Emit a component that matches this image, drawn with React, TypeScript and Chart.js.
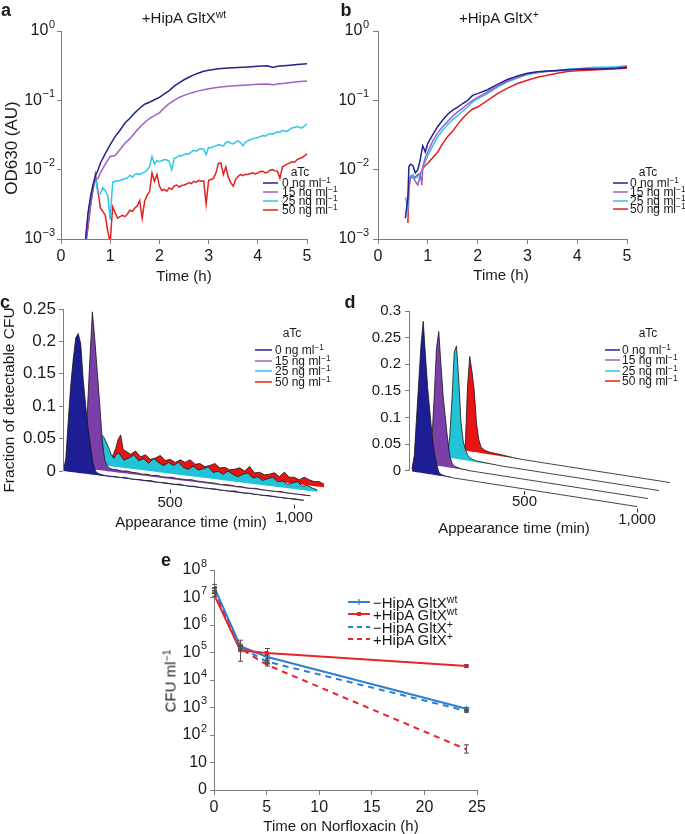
import React, { useEffect, useRef } from 'react';
import { Chart, registerables } from 'chart.js';

Chart.register(...registerables);

const FONT = '"Liberation Sans", Arial, Helvetica, sans-serif';
const AXIS = '#7d7d7d';
const INK = '#1a1a1a';

// ---------- colours ----------
const LINE_COLORS = ['#23238f', '#9d62c4', '#2fc5ea', '#e5201f'];
const FILL_COLORS = ['#1d1d94', '#7a3fa8', '#22c3d6', '#e81414'];
const E_BLUE = '#2d7fd2';
const E_RED = '#e5252b';

// ---------- shared labels ----------
const ATC_DOSES = [0, 15, 25, 50];
const OD_TICKS = [0.001, 0.01, 0.1, 1];
const OD_TICK_BASES = ['10', '10', '10', '10'];
const OD_TICK_EXPS = ['−3', '−2', '−1', '0'];

// ---------- panel a ----------
const A_T_SMOOTH = [0.5, 0.55, 0.6, 0.65, 0.7, 0.75, 0.8, 0.9, 1.0, 1.1, 1.2, 1.3, 1.4, 1.5, 1.6, 1.7, 1.8, 1.9, 2.0, 2.1, 2.2, 2.3, 2.4, 2.5, 2.6, 2.7, 2.8, 2.9, 3.0, 3.2, 3.4, 3.6, 3.8, 4.0, 4.2, 4.3, 4.4, 4.6, 4.8, 5.0];
const A_BLUE = [0.001, 0.0024, 0.004, 0.006, 0.0082, 0.0098, 0.0124, 0.017, 0.023, 0.03, 0.037, 0.047, 0.055, 0.066, 0.077, 0.088, 0.094, 0.102, 0.11, 0.124, 0.138, 0.16, 0.178, 0.198, 0.215, 0.233, 0.248, 0.262, 0.272, 0.285, 0.292, 0.298, 0.303, 0.31, 0.316, 0.298, 0.31, 0.318, 0.328, 0.338];
const A_PURPLE = [0.0009, 0.0016, 0.003, 0.005, 0.0075, 0.0074, 0.009, 0.012, 0.0155, 0.016, 0.0195, 0.024, 0.028, 0.034, 0.041, 0.048, 0.055, 0.06, 0.066, 0.078, 0.09, 0.1, 0.11, 0.118, 0.125, 0.131, 0.137, 0.142, 0.147, 0.154, 0.159, 0.163, 0.167, 0.17, 0.172, 0.168, 0.172, 0.178, 0.185, 0.19];
const A_T_NOISY = [
  0.5, 0.55, 0.6, 0.65, 0.7, 0.75, 0.8, 0.85, 0.9, 0.95,
  1.0, 1.05, 1.1, 1.15, 1.2, 1.25, 1.3, 1.35, 1.4, 1.45,
  1.5, 1.55, 1.6, 1.65, 1.7, 1.75, 1.8, 1.85, 1.9, 1.95,
  2.0, 2.05, 2.1, 2.15, 2.2, 2.25, 2.3, 2.35, 2.4, 2.45,
  2.5, 2.55, 2.6, 2.65, 2.7, 2.75, 2.8, 2.85, 2.9, 2.95,
  3.0, 3.05, 3.1, 3.15, 3.2, 3.25, 3.3, 3.35, 3.4, 3.45,
  3.5, 3.55, 3.6, 3.65, 3.7, 3.75, 3.8, 3.85, 3.9, 3.95,
  4.0, 4.05, 4.1, 4.15, 4.2, 4.25, 4.3, 4.35, 4.4, 4.45,
  4.5, 4.55, 4.6, 4.65, 4.7, 4.75, 4.8, 4.85, 4.9, 4.95,
  5.0,
];
const A_CYAN = [
  0.001, 0.0022, 0.004, 0.006, 0.0078, 0.0045, 0.0045, 0.0055, 0.005, 0.0042,
  0.0019, 0.0066, 0.0068, 0.0069, 0.007, 0.0072, 0.0074, 0.0076, 0.0083, 0.0078,
  0.0085, 0.0087, 0.0085, 0.009, 0.0092, 0.0098, 0.011, 0.0155, 0.012, 0.0135,
  0.013, 0.0135, 0.014, 0.0138, 0.0132, 0.01, 0.0145, 0.015, 0.016, 0.0158,
  0.0165, 0.017, 0.0168, 0.018, 0.019, 0.0185, 0.0195, 0.02, 0.0198, 0.0165,
  0.021, 0.0205, 0.0215, 0.022, 0.023, 0.0225, 0.022, 0.0245, 0.0255, 0.024,
  0.0235, 0.025, 0.026, 0.0245, 0.0222, 0.025, 0.026, 0.027, 0.028, 0.0285,
  0.029, 0.03, 0.031, 0.0305, 0.032, 0.033, 0.0325, 0.034, 0.035, 0.0345,
  0.037, 0.036, 0.0355, 0.038, 0.04, 0.041, 0.042, 0.0405, 0.04, 0.043,
  0.046,
];
const A_RED = [
  0.0008, 0.0015, 0.003, 0.0055, 0.0085, 0.005, 0.0028, 0.0025, 0.0022, 0.0013,
  0.0009, 0.0029, 0.0024, 0.002, 0.0021, 0.0022, 0.0021, 0.0023, 0.0026, 0.0025,
  0.0028, 0.003, 0.0036, 0.002, 0.0035, 0.0043, 0.0048, 0.009, 0.0068, 0.0085,
  0.0058, 0.005, 0.0052, 0.0049, 0.0055, 0.0052, 0.0058, 0.006, 0.0056, 0.0059,
  0.006, 0.0062, 0.0065, 0.0063, 0.0068, 0.0066, 0.007, 0.0068, 0.0069, 0.0032,
  0.007, 0.0072, 0.0075, 0.009, 0.0123, 0.0125, 0.0085, 0.011, 0.0078, 0.0065,
  0.0058, 0.0072, 0.008, 0.0085, 0.0082, 0.0086, 0.0085, 0.0088, 0.009, 0.0087,
  0.009, 0.0094, 0.0095, 0.009, 0.0092, 0.0098, 0.01, 0.0096, 0.0095, 0.0075,
  0.011, 0.0115, 0.012, 0.0125, 0.013, 0.0128, 0.014, 0.0145, 0.015, 0.0158,
  0.017,
];

// ---------- panel b ----------
const B_T = [0.55, 0.6, 0.62, 0.65, 0.7, 0.75, 0.8, 0.85, 0.88, 0.9, 0.95, 1.0, 1.1, 1.2, 1.3, 1.4, 1.5, 1.6, 1.7, 1.8, 1.9, 2.0, 2.2, 2.4, 2.6, 2.8, 3.0, 3.2, 3.4, 3.6, 3.8, 4.0, 4.2, 4.4, 4.6, 4.8, 5.0];
const B_BLUE = [0.002, 0.004, 0.011, 0.012, 0.0115, 0.009, 0.01, 0.014, 0.019, 0.022, 0.018, 0.024, 0.032, 0.042, 0.052, 0.063, 0.072, 0.08, 0.09, 0.1, 0.118, 0.125, 0.142, 0.17, 0.2, 0.225, 0.245, 0.258, 0.265, 0.27, 0.275, 0.28, 0.283, 0.28, 0.285, 0.29, 0.3];
const B_PURPLE = [null, 0.003, 0.0055, 0.0075, 0.0078, 0.0068, 0.006, 0.0085, 0.006, 0.011, 0.015, 0.018, 0.026, 0.034, 0.042, 0.05, 0.059, 0.068, 0.077, 0.088, 0.1, 0.11, 0.132, 0.16, 0.19, 0.215, 0.24, 0.255, 0.262, 0.268, 0.272, 0.278, 0.285, 0.29, 0.29, 0.295, 0.305];
const B_CYAN = [0.004, 0.0028, 0.006, 0.008, 0.0085, 0.0075, 0.008, 0.009, 0.0095, 0.011, 0.013, 0.016, 0.022, 0.03, 0.037, 0.045, 0.053, 0.06, 0.07, 0.08, 0.095, 0.105, 0.125, 0.155, 0.185, 0.21, 0.235, 0.25, 0.26, 0.27, 0.28, 0.285, 0.295, 0.3, 0.3, 0.305, 0.315];
const B_RED = [null, 0.0017, 0.005, 0.008, 0.0082, 0.0078, 0.0085, 0.0088, 0.0095, 0.0105, 0.0115, 0.0124, 0.015, 0.018, 0.024, 0.03, 0.036, 0.045, 0.055, 0.065, 0.075, 0.08, 0.1, 0.125, 0.15, 0.175, 0.195, 0.215, 0.23, 0.245, 0.26, 0.268, 0.272, 0.275, 0.28, 0.285, 0.29];

// ---------- panel c ----------
const C_T = [
  70, 80, 90, 100, 110, 120, 130, 140, 150, 160, 170, 180, 190, 200, 210, 220, 230, 240,
  260, 280, 300, 320, 340, 360, 380, 400, 420, 440, 460, 480, 500, 520, 540, 560, 580, 600, 620, 640, 660, 680,
  700, 720, 740, 760, 780, 800, 820, 840, 860, 880, 900, 920, 940, 960, 980, 1000, 1020, 1040,
];
const C_BLUE = [
  0, 0.02, 0.08, 0.135, 0.175, 0.208, 0.215, 0.2, 0.145, 0.105, 0.07, 0.042, 0.017, 0.006, 0.003, 0.002, 0.0015, 0.001,
  0.001, 0.0015, 0.001, 0.002, 0.001, 0.001, 0.0015, 0.001, 0.002, 0.001, 0.001, 0.0015, 0.001, 0.001, 0.002, 0.001, 0.001, 0.0015, 0.001, 0.001,
  0.001, 0.0015, 0.001, 0.001, 0.001, 0.002, 0.001, 0.001, 0.0015, 0.001, 0.001, 0.001, 0.0015, 0.001, 0.001, 0.001, 0.001, 0.0015, 0.001, 0.001,
];
const C_PURPLE = [
  0, 0, 0, 0, 0, 0.005, 0.03, 0.09, 0.17, 0.243, 0.2, 0.15, 0.1, 0.045, 0.016, 0.008, 0.005, 0.004,
  0.004, 0.003, 0.004, 0.003, 0.003, 0.002, 0.003, 0.002, 0.003, 0.002, 0.002, 0.003, 0.002, 0.002, 0.002, 0.003, 0.002, 0.002, 0.002, 0.002,
  0.002, 0.001, 0.002, 0.002, 0.001, 0.002, 0.001, 0.001, 0.002, 0.001, 0.001, 0.001, 0.001, 0.002, 0.001, 0.001, 0.001, 0.001, 0.001, 0.001,
];
const C_CYAN = [
  0, 0, 0, 0, 0, 0, 0, 0.01, 0.025, 0.04, 0.047, 0.043, 0.035, 0.027, 0.017, 0.013, 0.02, 0.022,
  0.012, 0.016, 0.022, 0.014, 0.018, 0.012, 0.02, 0.015, 0.011, 0.017, 0.013, 0.019, 0.012, 0.01, 0.016, 0.011, 0.014, 0.018, 0.01, 0.013,
  0.009, 0.015, 0.011, 0.008, 0.013, 0.016, 0.009, 0.012, 0.007, 0.011, 0.014, 0.008, 0.01, 0.006, 0.009, 0.012, 0.006, 0.008, 0.005, 0.003,
];
const C_RED = [
  0, 0, 0, 0, 0, 0, 0, 0, 0, 0, 0, 0.005, 0.01, 0.02, 0.035, 0.042, 0.02, 0.018,
  0.014, 0.02, 0.012, 0.016, 0.01, 0.013, 0.018, 0.011, 0.014, 0.01, 0.015, 0.012, 0.017, 0.011, 0.013, 0.009, 0.012, 0.016, 0.01, 0.012,
  0.009, 0.011, 0.014, 0.01, 0.018, 0.009, 0.011, 0.008, 0.01, 0.013, 0.008, 0.016, 0.009, 0.01, 0.007, 0.012, 0.009, 0.007, 0.008, 0.005,
];
const C_YTICKS = [0, 0.05, 0.1, 0.15, 0.2, 0.25];
const C_YTICK_LABELS = ['0', '0.05', '0.1', '0.15', '0.2', '0.25'];

// ---------- panel d ----------
const D_T = [
  0, 10, 20, 30, 40, 50, 60, 70, 80, 90, 100, 110, 120, 130, 140, 150, 160, 170, 180, 190, 200,
  250, 300, 350, 400, 450, 500, 550, 600, 650, 700, 750, 800, 850, 900, 950, 1000,
];
const D_BLUE = [
  0.005, 0.03, 0.1, 0.17, 0.24, 0.285, 0.22, 0.16, 0.115, 0.07, 0.04, 0.02, 0.006, 0.003, 0.002, 0.001, 0.001, 0.001, 0, 0, 0,
  0, 0, 0, 0, 0, 0, 0, 0, 0, 0, 0, 0, 0, 0, 0, 0,
];
const D_PURPLE = [
  0, 0, 0, 0.01, 0.05, 0.13, 0.22, 0.252, 0.19, 0.13, 0.09, 0.05, 0.02, 0.008, 0.004, 0.003, 0.002, 0.001, 0.001, 0.001, 0,
  0, 0, 0, 0, 0, 0, 0, 0, 0, 0, 0, 0, 0, 0, 0, 0,
];
const D_CYAN = [
  0, 0, 0, 0, 0, 0, 0.005, 0.04, 0.11, 0.2, 0.212, 0.15, 0.07, 0.035, 0.02, 0.01, 0.006, 0.004, 0.003, 0.002, 0.002,
  0.001, 0, 0, 0, 0, 0, 0, 0, 0, 0, 0, 0, 0, 0, 0, 0,
];
const D_RED = [
  0, 0, 0, 0, 0, 0, 0, 0, 0, 0.005, 0.12, 0.178, 0.15, 0.115, 0.055, 0.025, 0.012, 0.008, 0.006, 0.005, 0.004,
  0.003, 0.001, 0, 0, 0, 0, 0, 0, 0, 0, 0, 0, 0, 0, 0, 0,
];
const D_YTICKS = [0, 0.05, 0.1, 0.15, 0.2, 0.25, 0.3];
const D_YTICK_LABELS = ['0', '0.05', '0.1', '0.15', '0.2', '0.25', '0.3'];

const CD_XTICKS = [500, 1000];
const CD_XTICK_LABELS = ['500', '1,000'];

// ---------- panel e ----------
const E_T = [0, 2.5, 5, 24];
const E_MINUS_WT = [2.5e7, 1.7e5, 7e4, 900];
const E_PLUS_WT = [1.3e7, 1.2e5, 9.5e4, 3.2e4];
const E_MINUS_GP = [2.0e7, 1.6e5, 4.7e4, 750];
const E_PLUS_GP = [1.6e7, 1.4e5, 3.6e4, 30];
const E_MINUS_WT_LO = [2.1e7, 1.4e5, 6.0e4, 800];
const E_MINUS_WT_HI = [3.0e7, 2.0e5, 8.0e4, 1000];
const E_PLUS_WT_LO = [1.1e7, 4.8e4, 3.8e4, 2.9e4];
const E_PLUS_WT_HI = [1.5e7, 2.8e5, 1.4e5, 3.5e4];
const E_MINUS_GP_LO = [1.7e7, 1.4e5, 4.2e4, 680];
const E_MINUS_GP_HI = [2.3e7, 1.8e5, 5.2e4, 820];
const E_PLUS_GP_LO = [1.4e7, 1.2e5, 3.2e4, 22];
const E_PLUS_GP_HI = [1.8e7, 1.6e5, 4.0e4, 44];
const E_YTICKS = [1, 10, 100, 1e3, 1e4, 1e5, 1e6, 1e7, 1e8];
const E_TICK_BASES = ['0', '10', '10', '10', '10', '10', '10', '10', '10'];
const E_TICK_EXPS = ['', '', '2', '3', '4', '5', '6', '7', '8'];

// ---------- helpers ----------
function axis(o: any) {
  return {
    type: o.type,
    min: o.min,
    max: o.max,
    display: o.display === undefined ? true : o.display,
    grid: { display: true, drawOnChartArea: false, drawTicks: true, tickLength: o.tickLength ?? 5, color: AXIS, tickColor: AXIS, lineWidth: 1 },
    border: { display: o.border ?? true, color: AXIS, width: 1 },
    ticks: {
      font: { family: FONT, size: o.fontSize ?? 15 },
      color: INK,
      padding: o.padding ?? 3,
      stepSize: o.stepSize,
      maxRotation: 0,
      autoSkip: false,
      callback: o.labels ? (_v: any, i: number) => o.labels[i] : o.blank ? () => '' : undefined,
    },
    afterBuildTicks: o.tickValues ? (s: any) => { s.ticks = o.tickValues.map((v: number) => ({ value: v })); } : undefined,
    afterFit: (s: any) => {
      if (o.fitWidth !== undefined) s.width = o.fitWidth;
      if (o.fitHeight !== undefined) s.height = o.fitHeight;
    },
  };
}

// y tick labels of the form base + superscript exponent, placed through the y scale
function powerLabelPlugin(bases: string[], exps: string[], size: number, gap: number) {
  return {
    id: 'powerLabels',
    afterDraw(chart: any) {
      const ys = chart.scales.y;
      const ctx = chart.ctx;
      ctx.save();
      ctx.fillStyle = INK;
      ctx.textBaseline = 'middle';
      ctx.textAlign = 'right';
      const xr = ys.right - gap;
      ys.ticks.forEach((t: any, i: number) => {
        const py = ys.getPixelForValue(t.value);
        const e = exps[i];
        let ew = 0;
        if (e) {
          ctx.font = `${Math.round(size * 0.68)}px ${FONT}`;
          ew = ctx.measureText(e).width + 0.5;
          ctx.fillText(e, xr, py - size * 0.4);
        }
        ctx.font = `${size}px ${FONT}`;
        ctx.fillText(bases[i], xr - ew, py);
      });
      ctx.restore();
    },
  };
}

function lineSeries(ts: number[], vs: (number | null)[], color: string) {
  return {
    data: ts.map((t, i) => ({ x: t, y: vs[i] })),
    borderColor: color,
    borderWidth: 1.5,
    pointRadius: 0,
    tension: 0,
    fill: false,
  };
}

function baseOptions(padding: any, scales: any) {
  return {
    animation: false,
    responsive: false,
    devicePixelRatio: 1,
    layout: { padding },
    plugins: { legend: { display: false }, tooltip: { enabled: false } },
    scales,
  };
}

function makeOD(ts: number[][], series: any[][], pad: any, yWidth: number, tickLen: number, tickPad: number) {
  return {
    type: 'line',
    data: { datasets: series.map((vs, i) => lineSeries(ts[i], vs, LINE_COLORS[i])) },
    options: baseOptions(pad, {
      x: axis({ type: 'linear', min: 0, max: 5, stepSize: 1, fitHeight: 51, tickLength: 5, padding: 3, fontSize: 16 }),
      y: axis({ type: 'logarithmic', min: 0.001, max: 1, tickValues: OD_TICKS, blank: true, fitWidth: yWidth, tickLength: tickLen, padding: tickPad, fontSize: 16 }),
    }),
    plugins: [powerLabelPlugin(OD_TICK_BASES, OD_TICK_EXPS, 16, tickLen + tickPad)],
  };
}

// 3-D waterfall projection: series k is shifted back (right & up), time axis slopes down.
function project(t: number, v: number, k: number, G: any) {
  return {
    x: t + (k * G.kdx) / G.pxPerMin,
    y: v - (G.slope * G.pxPerMin * (t - G.t0)) / G.pxPerVal + (k * G.kdy) / G.pxPerVal,
  };
}

function ribbon(ts: number[], vs: number[], k: number, G: any) {
  return [
    {
      data: ts.map((t, i) => project(t, vs[i], k, G)),
      borderColor: '#151515',
      borderWidth: 0.8,
      backgroundColor: FILL_COLORS[k],
      fill: '+1',
      pointRadius: 0,
      tension: 0,
    },
    {
      data: ts.map((t) => project(t, 0, k, G)),
      borderColor: 'rgba(0,0,0,0)',
      borderWidth: 0,
      pointRadius: 0,
      fill: false,
    },
  ];
}

function skewAxesPlugin(G: any) {
  return {
    id: 'skewAxes',
    afterDraw(chart: any) {
      const { ctx, chartArea, scales } = chart;
      const xs = scales.x;
      const ys = scales.y;
      ctx.save();
      ctx.strokeStyle = AXIS;
      ctx.lineWidth = 1;
      const ax = Math.round(chartArea.left) + 0.5;
      ctx.beginPath();
      ctx.moveTo(ax, ys.getPixelForValue(0));
      ctx.lineTo(ax, ys.getPixelForValue(G.yMax));
      ctx.stroke();
      ctx.fillStyle = INK;
      ctx.strokeStyle = '#333';
      ctx.font = `${G.xFont}px ${FONT}`;
      ctx.textAlign = 'center';
      ctx.textBaseline = 'middle';
      CD_XTICKS.forEach((t, i) => {
        const p = project(t, 0, 0, G);
        const px = xs.getPixelForValue(p.x);
        const py = ys.getPixelForValue(p.y);
        ctx.beginPath();
        ctx.moveTo(Math.round(px) + 0.5, py + G.tick1);
        ctx.lineTo(Math.round(px) + 0.5, py + G.tick2);
        ctx.stroke();
        ctx.fillText(CD_XTICK_LABELS[i], px, py + G.labelDy);
      });
      ctx.restore();
    },
  };
}

function makeWaterfall(G: any, series: number[][], ts: number[], yTicks: number[], yLabels: string[]) {
  const datasets: any[] = [];
  series.forEach((vs, k) => datasets.push(...ribbon(ts, vs, k, G)));
  const chartH = (G.yMax - G.yMin) * G.pxPerVal;
  const chartW = G.right - G.left;
  return {
    type: 'line',
    data: { datasets },
    options: baseOptions(
      { top: G.top, right: G.W - G.right, left: 0, bottom: G.H - G.top - chartH },
      {
        x: { type: 'linear', display: false, min: G.t0, max: G.t0 + chartW / G.pxPerMin },
        y: axis({ type: 'linear', min: G.yMin, max: G.yMax, tickValues: yTicks, labels: yLabels, fitWidth: G.left, tickLength: G.yTickLen, padding: G.yTickPad, fontSize: G.yFont, border: false }),
      }
    ),
    plugins: [skewAxesPlugin(G)],
  };
}

// geometry of the pseudo-3D panels (canvas-relative)
const C_GEOM = { W: 345, H: 250, left: 63, right: 335, top: 19, yMin: -0.07, yMax: 0.25, pxPerVal: 648, pxPerMin: 0.248, t0: 68.55, slope: 0.124, kdx: 6.7, kdy: 4.5, xFont: 15, labelDy: 18.5, tick1: 5, tick2: 9, yTickLen: 4, yTickPad: 3, yFont: 17 };
const D_GEOM = { W: 340, H: 250, left: 64, right: 335, top: 21, yMin: -0.08, yMax: 0.3, pxPerVal: 533.3, pxPerMin: 0.225, t0: -13.33, slope: 0.156, kdx: 11, kdy: 8, xFont: 15, labelDy: 13, tick1: 2, tick2: 6, yTickLen: 4, yTickPad: 4, yFont: 15 };

const E_SERIES = [
  { values: E_PLUS_WT, lo: E_PLUS_WT_LO, hi: E_PLUS_WT_HI, color: E_RED, dash: [], style: 'rect', r: 2 },
  { values: E_MINUS_WT, lo: E_MINUS_WT_LO, hi: E_MINUS_WT_HI, color: E_BLUE, dash: [], style: 'cross', r: 3 },
  { values: E_PLUS_GP, lo: E_PLUS_GP_LO, hi: E_PLUS_GP_HI, color: E_RED, dash: [6, 5], style: 'line', r: 0 },
  { values: E_MINUS_GP, lo: E_MINUS_GP_LO, hi: E_MINUS_GP_HI, color: E_BLUE, dash: [6, 5], style: 'circle', r: 1.8 },
];

const errorBarPlugin = {
  id: 'errorBars',
  afterDatasetsDraw(chart: any) {
    const { ctx, scales } = chart;
    ctx.save();
    ctx.strokeStyle = '#5a4a4a';
    ctx.lineWidth = 1;
    E_SERIES.forEach((s) => {
      E_T.forEach((t, i) => {
        const lo = s.lo[i];
        const hi = s.hi[i];
        if (lo == null || hi == null) return;
        const px = Math.round(scales.x.getPixelForValue(t)) + 0.5;
        const p1 = scales.y.getPixelForValue(lo);
        const p2 = scales.y.getPixelForValue(hi);
        ctx.beginPath();
        ctx.moveTo(px, p1);
        ctx.lineTo(px, p2);
        ctx.moveTo(px - 2.5, p1);
        ctx.lineTo(px + 2.5, p1);
        ctx.moveTo(px - 2.5, p2);
        ctx.lineTo(px + 2.5, p2);
        ctx.stroke();
      });
    });
    ctx.restore();
  },
};

function makeE() {
  return {
    type: 'line',
    data: {
      datasets: E_SERIES.map((s) => ({
        data: E_T.map((t, i) => ({ x: t, y: s.values[i] })),
        borderColor: s.color,
        backgroundColor: s.color,
        borderWidth: 2,
        borderDash: s.dash,
        pointStyle: s.style,
        pointRadius: s.r,
        pointBorderWidth: 1.2,
        tension: 0,
        fill: false,
      })),
    },
    options: baseOptions({ top: 25, right: 23, left: 0, bottom: 0 }, {
      x: axis({ type: 'linear', min: 0, max: 25, stepSize: 5, fitHeight: 44, tickLength: 5, padding: 3, fontSize: 16 }),
      y: axis({ type: 'logarithmic', min: 1, max: 1e8, tickValues: E_YTICKS, blank: true, fitWidth: 54, tickLength: 4, padding: 3, fontSize: 16 }),
    }),
    plugins: [errorBarPlugin, powerLabelPlugin(E_TICK_BASES, E_TICK_EXPS, 16, 7)],
  };
}

// ---------- React pieces ----------
function ChartBox({ left, top, width, height, make }: any) {
  const ref = useRef<HTMLCanvasElement>(null);
  useEffect(() => {
    const chart = new Chart(ref.current as HTMLCanvasElement, make());
    return () => chart.destroy();
  }, []);
  return <canvas ref={ref} width={width} height={height} style={{ position: 'absolute', left, top, width, height }} />;
}

function Sup({ children }: any) {
  return <span style={{ fontSize: '0.7em', position: 'relative', top: '-0.45em' }}>{children}</span>;
}

function Txt({ x, y, size, children, bold = false, anchor = 'middle', rotate = 0 }: any) {
  const tx = anchor === 'middle' ? '-50%' : anchor === 'end' ? '-100%' : '0%';
  return (
    <div
      style={{
        position: 'absolute',
        left: x,
        top: y,
        transform: `translate(${tx},-50%)${rotate ? ` rotate(${rotate}deg)` : ''}`,
        fontSize: size,
        fontWeight: bold ? 700 : 400,
        lineHeight: 1,
        whiteSpace: 'nowrap',
        fontFamily: FONT,
        color: INK,
      }}
    >
      {children}
    </div>
  );
}

function LegendRows({ rows, x1, x2, tx, size }: any) {
  return (
    <>
      {rows.map((r: any, i: number) => (
        <React.Fragment key={i}>
          <svg style={{ position: 'absolute', left: x1, top: r.y - 5, overflow: 'visible' }} width={x2 - x1} height={10}>
            <line x1={0} y1={5} x2={x2 - x1} y2={5} stroke={r.color} strokeWidth={r.w || 1.5} strokeDasharray={r.dash} />
            {r.marker === 'rect' && <rect x={(x2 - x1) / 2 - 2} y={3} width={4} height={4} fill={r.color} />}
            {r.marker === 'cross' && <line x1={(x2 - x1) / 2} y1={2} x2={(x2 - x1) / 2} y2={8} stroke={r.color} strokeWidth={1.2} />}
          </svg>
          <Txt x={tx} y={r.y} size={size} anchor="start">{r.label}</Txt>
        </React.Fragment>
      ))}
    </>
  );
}

function atcRows(ys: number[]) {
  return ATC_DOSES.map((d, i) => ({ y: ys[i], color: LINE_COLORS[i], label: <>{d} ng ml<Sup>−1</Sup></> }));
}

function AtcLegend({ titleX, titleY, ys, x1, x2, tx }: any) {
  return (
    <>
      <Txt x={titleX} y={titleY} size={12}>aTc</Txt>
      <LegendRows rows={atcRows(ys)} x1={x1} x2={x2} tx={tx} size={12} />
    </>
  );
}

export default function App() {
  const eRows = [
    { y: 602, color: E_BLUE, marker: 'cross', w: 2, label: <>−HipA GltX<Sup>wt</Sup></> },
    { y: 614, color: E_RED, marker: 'rect', w: 2, label: <>+HipA GltX<Sup>wt</Sup></> },
    { y: 627, color: E_BLUE, dash: '5 4', w: 2, label: <>−HipA GltX<Sup>+</Sup></> },
    { y: 639, color: E_RED, dash: '5 4', w: 2, label: <>+HipA GltX<Sup>+</Sup></> },
  ];
  return (
    <div style={{ position: 'absolute', left: 0, top: 0, width: 685, height: 834, background: '#fff', overflow: 'hidden', fontFamily: FONT }}>
      <ChartBox left={0} top={0} width={335} height={290}
        make={() => makeOD([A_T_SMOOTH, A_T_SMOOTH, A_T_NOISY, A_T_NOISY], [A_BLUE, A_PURPLE, A_CYAN, A_RED], { top: 31, right: 28, left: 0, bottom: 0 }, 61, 4, 2)} />
      <ChartBox left={340} top={0} width={345} height={290}
        make={() => makeOD([B_T, B_T, B_T, B_T], [B_BLUE, B_PURPLE, B_CYAN, B_RED], { top: 31, right: 58, left: 0, bottom: 0 }, 38, 5, 4)} />
      <ChartBox left={0} top={290} width={345} height={250}
        make={() => makeWaterfall(C_GEOM, [C_BLUE, C_PURPLE, C_CYAN, C_RED], C_T, C_YTICKS, C_YTICK_LABELS)} />
      <ChartBox left={345} top={290} width={340} height={250}
        make={() => makeWaterfall(D_GEOM, [D_BLUE, D_PURPLE, D_CYAN, D_RED], D_T, D_YTICKS, D_YTICK_LABELS)} />
      <ChartBox left={160} top={545} width={340} height={289} make={makeE} />

      {/* panel letters */}
      <Txt x={6} y={10} size={18} bold>a</Txt>
      <Txt x={346} y={10} size={18} bold>b</Txt>
      <Txt x={5} y={302} size={18} bold>c</Txt>
      <Txt x={350} y={302} size={18} bold>d</Txt>
      <Txt x={166} y={560} size={18} bold>e</Txt>

      {/* titles */}
      <Txt x={184} y={17} size={15}>+HipA GltX<Sup>wt</Sup></Txt>
      <Txt x={499} y={17} size={15}>+HipA GltX<Sup>+</Sup></Txt>

      {/* axis titles */}
      <Txt x={11} y={148} size={17} rotate={-90}>OD630 (AU)</Txt>
      <Txt x={184} y={275} size={15}>Time (h)</Txt>
      <Txt x={501} y={274} size={15}>Time (h)</Txt>
      <Txt x={9} y={400} size={15.5} rotate={-90}>Fraction of detectable CFU</Txt>
      <Txt x={191} y={521} size={15}>Appearance time (min)</Txt>
      <Txt x={514} y={527} size={15}>Appearance time (min)</Txt>
      <Txt x={170} y={681} size={15} rotate={-90}>CFU ml<Sup>−1</Sup></Txt>
      <Txt x={341} y={825} size={15}>Time on Norfloxacin (h)</Txt>

      {/* legends */}
      <AtcLegend titleX={300} titleY={172} ys={[183, 192, 201, 210]} x1={263} x2={278} tx={282} />
      <AtcLegend titleX={648} titleY={172} ys={[183, 192, 200.5, 209]} x1={613} x2={628} tx={630} />
      <AtcLegend titleX={292} titleY={333} ys={[350, 360.5, 371, 381.5]} x1={255} x2={272} tx={275} />
      <AtcLegend titleX={648} titleY={333} ys={[350, 360, 370.5, 381]} x1={605} x2={620} tx={622} />
      <LegendRows rows={eRows} x1={348} x2={370} tx={373} size={15} />
    </div>
  );
}
